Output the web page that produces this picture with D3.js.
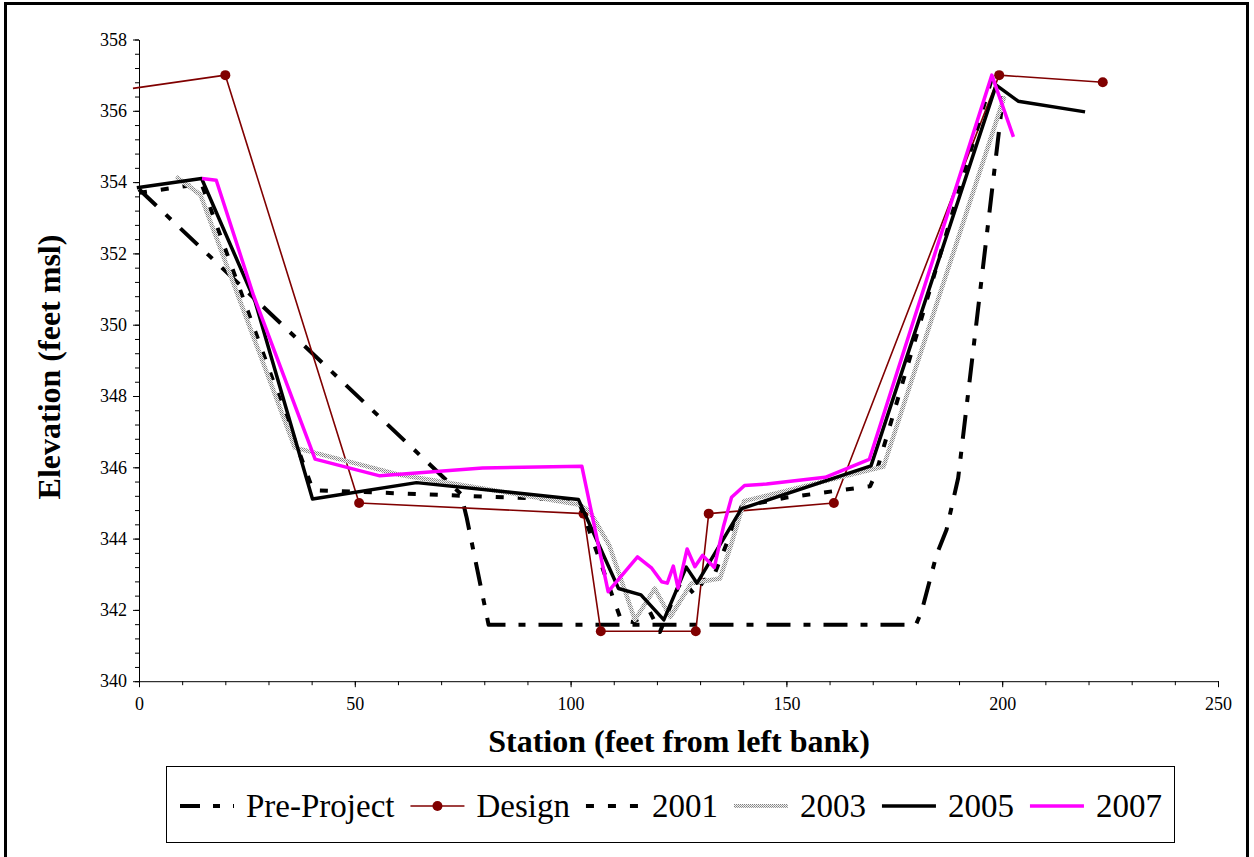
<!DOCTYPE html>
<html>
<head>
<meta charset="utf-8">
<script src="https://cdnjs.cloudflare.com/ajax/libs/d3/7.8.5/d3.min.js"></script>
<style>
  body { margin: 0; background: #fff; }
  text { font-family: "Liberation Serif", "Times New Roman", serif; }
</style>
</head>
<body>
<div id="plot"></div>
<script>

// station (ft) and elevation (ft msl) for each survey
var preProjectStation = [0, 74.6, 75.9, 81, 180, 181.3, 184.8, 187.1, 189.8, 200.2];
var preProjectElev    = [353.8, 345.25, 344.6, 341.58, 341.58, 341.95, 343.55, 344.25, 345.7, 356.4];

var designStation = [-1.4, 20, 51, 103, 107, 129, 132, 161, 199.3, 223.3];
var designElev    = [356.63, 357.0, 345.0, 344.7, 341.4, 341.4, 344.7, 345.0, 357.0, 356.8];

var s2001 = [0, 14.5, 40.3, 101.8, 111.7, 114.5, 118.4, 120.7, 124.4, 125.8, 128.8, 130.9, 133.0, 136.5, 139.6, 150, 169.4, 170.8, 197.6];
var e2001 = [353.7, 353.95, 345.36, 345.08, 341.71, 341.66, 341.94, 341.38, 342.5, 342.84, 342.42, 342.84, 342.9, 343.96, 344.9, 345.15, 345.47, 345.85, 356.9];

var s2003 = [8.6, 14.2, 36.1, 60, 102.2, 104.5, 109, 114.9, 119.5, 123.1, 128, 134.6, 137.3, 140.2, 172.5, 200.5];
var e2003 = [354.15, 353.65, 346.55, 345.8, 344.95, 344.75, 343.8, 341.72, 342.6, 341.8, 342.75, 342.88, 343.87, 345.05, 346.02, 356.4];

var s2005 = [-0.5, 14.5, 26.9, 40.2, 64.3, 101.8, 111.1, 116.3, 121.6, 126.8, 129.3, 139.6, 169.6, 198.6, 203.7, 219.2];
var e2005 = [353.84, 354.1, 350.65, 345.11, 345.57, 345.1, 342.6, 342.42, 341.72, 343.2, 342.75, 344.84, 346.04, 356.72, 356.27, 355.97];

var s2007 = [14.6, 17.9, 26.6, 40.8, 55.8, 79.6, 102.6, 108.7, 115.5, 118.8, 121.1, 122.4, 123.8, 124.9, 127.0, 128.8, 130.6, 133.3, 135.4, 137.3, 140.3, 145.4, 159.0, 169.2, 197.6, 202.6];
var e2007 = [354.1, 354.05, 350.8, 346.23, 345.76, 345.98, 346.03, 342.51, 343.49, 343.17, 342.79, 342.75, 343.23, 342.61, 343.71, 343.21, 343.53, 343.19, 344.33, 345.16, 345.49, 345.53, 345.72, 346.22, 357.0, 355.27];

var seriesNames = ["Pre-Project", "Design", "2001", "2003", "2005", "2007"];

// tick labels
var xTicks = [0, 50, 100, 150, 200, 250];
var yTicks = [340, 342, 344, 346, 348, 350, 352, 354, 356, 358];

var width = 1254, height = 857;
var serif = "'Liberation Serif', 'Times New Roman', serif";

// set the ranges
var x = d3.scaleLinear().domain([0, 250]).range([139, 1218]);
var y = d3.scaleLinear().domain([340, 358]).range([681.2, 39.5]);

var svg = d3.select("#plot").append("svg")
    .attr("width", width)
    .attr("height", height);

svg.append("rect")
    .attr("width", width).attr("height", height)
    .attr("fill", "#fff");

// outer chart border
svg.append("rect")
    .attr("x", 5.5).attr("y", 3.5)
    .attr("width", 1242).attr("height", 900)
    .attr("fill", "none")
    .attr("stroke", "#000")
    .attr("stroke-width", 3);

// stippled grey paint used for the 2003 line
var pat = svg.append("defs").append("pattern")
    .attr("id", "stipple")
    .attr("width", 2).attr("height", 2)
    .attr("patternUnits", "userSpaceOnUse");
pat.append("rect").attr("width", 2).attr("height", 2).attr("fill", "#f2f2f2");
pat.append("rect").attr("width", 1).attr("height", 1).attr("fill", "#808080");
pat.append("rect").attr("x", 1).attr("y", 1).attr("width", 1).attr("height", 1).attr("fill", "#a0a0a0");

// minor ticks
svg.append("g")
    .attr("transform", "translate(0," + y(340) + ")")
    .call(d3.axisBottom(x).tickValues(d3.range(0, 251, 10)).tickSize(4).tickFormat(""))
    .call(function(g) { g.select(".domain").remove(); });
svg.append("g")
    .attr("transform", "translate(" + x(0) + ",0)")
    .call(d3.axisLeft(y).tickValues(d3.range(0, 46).map(function(i) { return 340 + i * 0.4; })).tickSize(4).tickFormat(""))
    .call(function(g) { g.select(".domain").remove(); });

// Add the X Axis
svg.append("g")
    .attr("transform", "translate(0," + y(340) + ")")
    .call(d3.axisBottom(x).tickValues(xTicks).tickSize(6).tickSizeOuter(0).tickPadding(10));

// Add the Y Axis
svg.append("g")
    .attr("transform", "translate(" + x(0) + ",0)")
    .call(d3.axisLeft(y).tickValues(yTicks).tickSize(6).tickSizeOuter(0).tickPadding(6));

svg.selectAll(".tick text")
    .attr("fill", "#000")
    .style("font-size", "18px")
    .style("font-family", serif);

// axis titles
svg.append("text")
    .attr("x", 679).attr("y", 752)
    .attr("text-anchor", "middle")
    .attr("font-size", 32).attr("font-weight", "bold")
    .text("Station (feet from left bank)");

svg.append("text")
    .attr("transform", "translate(60,367) rotate(-90)")
    .attr("text-anchor", "middle")
    .attr("font-size", 32).attr("font-weight", "bold")
    .text("Elevation (feet msl)");

// line styles, one per series
var styles = [
  {stroke: "#000", width: 4, dash: "24,13,7,13"},
  {stroke: "#800000", width: 1.6, dash: null, marker: true},
  {stroke: "#000", width: 4, dash: "8,14"},
  {stroke: "url(#stipple)", width: 4.5, dash: null},
  {stroke: "#000", width: 3.5, dash: null},
  {stroke: "#ff00ff", width: 3.5, dash: null}
];

function zipPts(st, el) {
  return st.map(function(s, i) { return {s: s, e: el[i]}; });
}

var series = [
  zipPts(preProjectStation, preProjectElev),
  zipPts(designStation, designElev),
  zipPts(s2001, e2001),
  zipPts(s2003, e2003),
  zipPts(s2005, e2005),
  zipPts(s2007, e2007)
];

var line = d3.line()
    .x(function(d) { return x(d.s); })
    .y(function(d) { return y(d.e); });

series.forEach(function(pts, i) {
  var st = styles[i];
  svg.append("path")
      .datum(pts)
      .attr("fill", "none")
      .attr("stroke", st.stroke)
      .attr("stroke-width", st.width)
      .attr("stroke-dasharray", st.dash)
      .attr("stroke-linejoin", "round")
      .attr("d", line);
  if (st.marker) {
    svg.selectAll(".dot" + i)
        .data(pts.filter(function(d) { return d.s >= 0; }))
      .enter().append("circle")
        .attr("r", 5)
        .attr("cx", function(d) { return x(d.s); })
        .attr("cy", function(d) { return y(d.e); })
        .attr("fill", "#800000");
  }
});

// legend
svg.append("rect")
    .attr("x", 166.5).attr("y", 766.5)
    .attr("width", 1008).attr("height", 76)
    .attr("fill", "#fff")
    .attr("stroke", "#000")
    .attr("stroke-width", 1);

var lx = 180, ly = 806;
seriesNames.forEach(function(name, i) {
  var st = styles[i];
  svg.append("line")
      .attr("x1", lx).attr("x2", lx + 54)
      .attr("y1", ly).attr("y2", ly)
      .attr("stroke", st.stroke)
      .attr("stroke-width", i === 3 ? 4 : st.width)
      .attr("stroke-dasharray", i === 0 ? "20,13,7,13" : st.dash);
  if (st.marker) {
    svg.append("circle")
        .attr("cx", lx + 27).attr("cy", ly).attr("r", 5)
        .attr("fill", "#800000");
  }
  var t = svg.append("text")
      .attr("x", lx + 66).attr("y", 817)
      .attr("font-size", 33)
      .text(name);
  lx = lx + 66 + t.node().getComputedTextLength() + 16;
});

</script>
</body>
</html>
